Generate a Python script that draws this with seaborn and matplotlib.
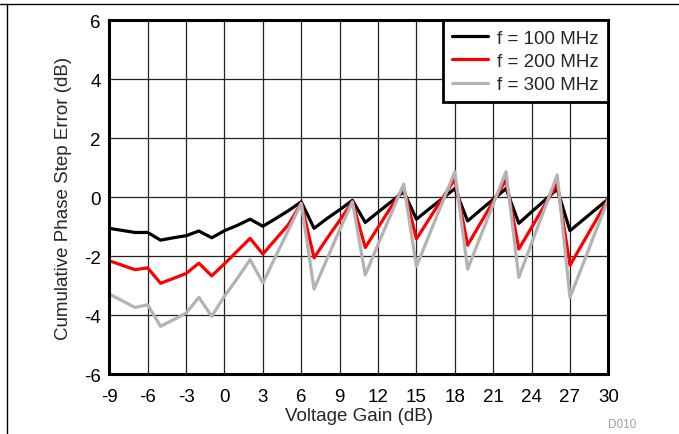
import numpy as np
import pandas as pd
import matplotlib
matplotlib.use("Agg")
import matplotlib.pyplot as plt
import seaborn as sns

# Voltage gain steps (dB)
gain = list(range(-9, 31))

# Cumulative phase step error (dB)
err_100 = [-1.05, -1.12, -1.19, -1.19, -1.45, -1.37, -1.30, -1.14, -1.37, -1.13,
           -0.95, -0.74, -0.98, -0.72, -0.45, -0.15, -1.05, -0.72, -0.42, -0.10,
           -0.85, -0.50, -0.16, 0.19, -0.74, -0.39, -0.05, 0.30, -0.80, -0.43,
           -0.07, 0.30, -0.88, -0.49, -0.11, 0.28, -1.13, -0.77, -0.41, -0.05]
err_200 = [-2.15, -2.30, -2.45, -2.39, -2.91, -2.75, -2.58, -2.23, -2.66, -2.25,
           -1.82, -1.39, -1.92, -1.42, -0.92, -0.20, -2.05, -1.40, -0.78, -0.15,
           -1.70, -1.02, -0.34, 0.34, -1.41, -0.73, -0.05, 0.62, -1.62, -0.88,
           -0.14, 0.60, -1.75, -1.02, -0.28, 0.45, -2.30, -1.55, -0.80, -0.05]
err_300 = [-3.28, -3.50, -3.73, -3.64, -4.37, -4.15, -3.92, -3.39, -4.03, -3.35,
           -2.75, -2.11, -2.90, -2.00, -1.10, -0.20, -3.11, -2.10, -1.10, -0.15,
           -2.63, -1.60, -0.58, 0.45, -2.34, -1.27, -0.20, 0.87, -2.43, -1.33,
           -0.23, 0.87, -2.71, -1.55, -0.40, 0.76, -3.39, -2.28, -1.16, -0.05]

labels = ['f = 100 MHz', 'f = 200 MHz', 'f = 300 MHz']
colors = ['#000000', '#ff0000', '#b3b3b3']

df = pd.concat([
    pd.DataFrame({'gain': gain, 'err': err_100, 'freq': labels[0]}),
    pd.DataFrame({'gain': gain, 'err': err_200, 'freq': labels[1]}),
    pd.DataFrame({'gain': gain, 'err': err_300, 'freq': labels[2]}),
])

sns.set_style("white")
plt.rcParams['font.family'] = ['Liberation Sans', 'DejaVu Sans']
plt.rcParams['axes.unicode_minus'] = False

FS = 13.5

fig = plt.figure(figsize=(6.79, 4.35), dpi=100)
ax = fig.add_axes([0.161, 0.137, 0.735, 0.814])

sns.lineplot(data=df, x='gain', y='err', hue='freq', hue_order=labels,
             palette=colors, linewidth=2.3, ax=ax, sort=False)

ax.set_xlim(-9, 30)
ax.set_ylim(-6, 6)
ax.set_xticks(np.arange(-9, 31, 3))
ax.set_yticks(np.arange(-6, 7, 2))
ax.grid(True, color='#222222', linewidth=0.9)
ax.set_axisbelow(True)
ax.tick_params(axis='both', length=0, labelsize=FS, colors='black')
ax.tick_params(axis='x', pad=10)
ax.tick_params(axis='y', pad=6)
for s in ax.spines.values():
    s.set_color('black')
    s.set_linewidth(2.2)

ax.set_xlabel('Voltage Gain (dB)', fontsize=FS, labelpad=1.5)
ax.set_ylabel('Cumulative Phase Step Error (dB)', fontsize=FS, labelpad=9)

leg = ax.legend(loc='upper right', borderaxespad=0, fancybox=False,
                fontsize=FS, handlelength=1.9, handletextpad=0.5,
                borderpad=0.5, labelspacing=0.32, framealpha=1)
leg.get_frame().set_edgecolor('black')
leg.get_frame().set_linewidth(2)
leg.set_title(None)

fig.text(0.916, 0.015, 'D010', fontsize=8.5, color='#a0a0a0', ha='center')

# page frame lines
fig.add_artist(plt.Line2D([0, 1], [0.988, 0.988], color='black', linewidth=1,
                          transform=fig.transFigure))
fig.add_artist(plt.Line2D([0.0105, 0.0105], [0, 0.988], color='black', linewidth=1,
                          transform=fig.transFigure))

fig.savefig('out.png', dpi=100)
